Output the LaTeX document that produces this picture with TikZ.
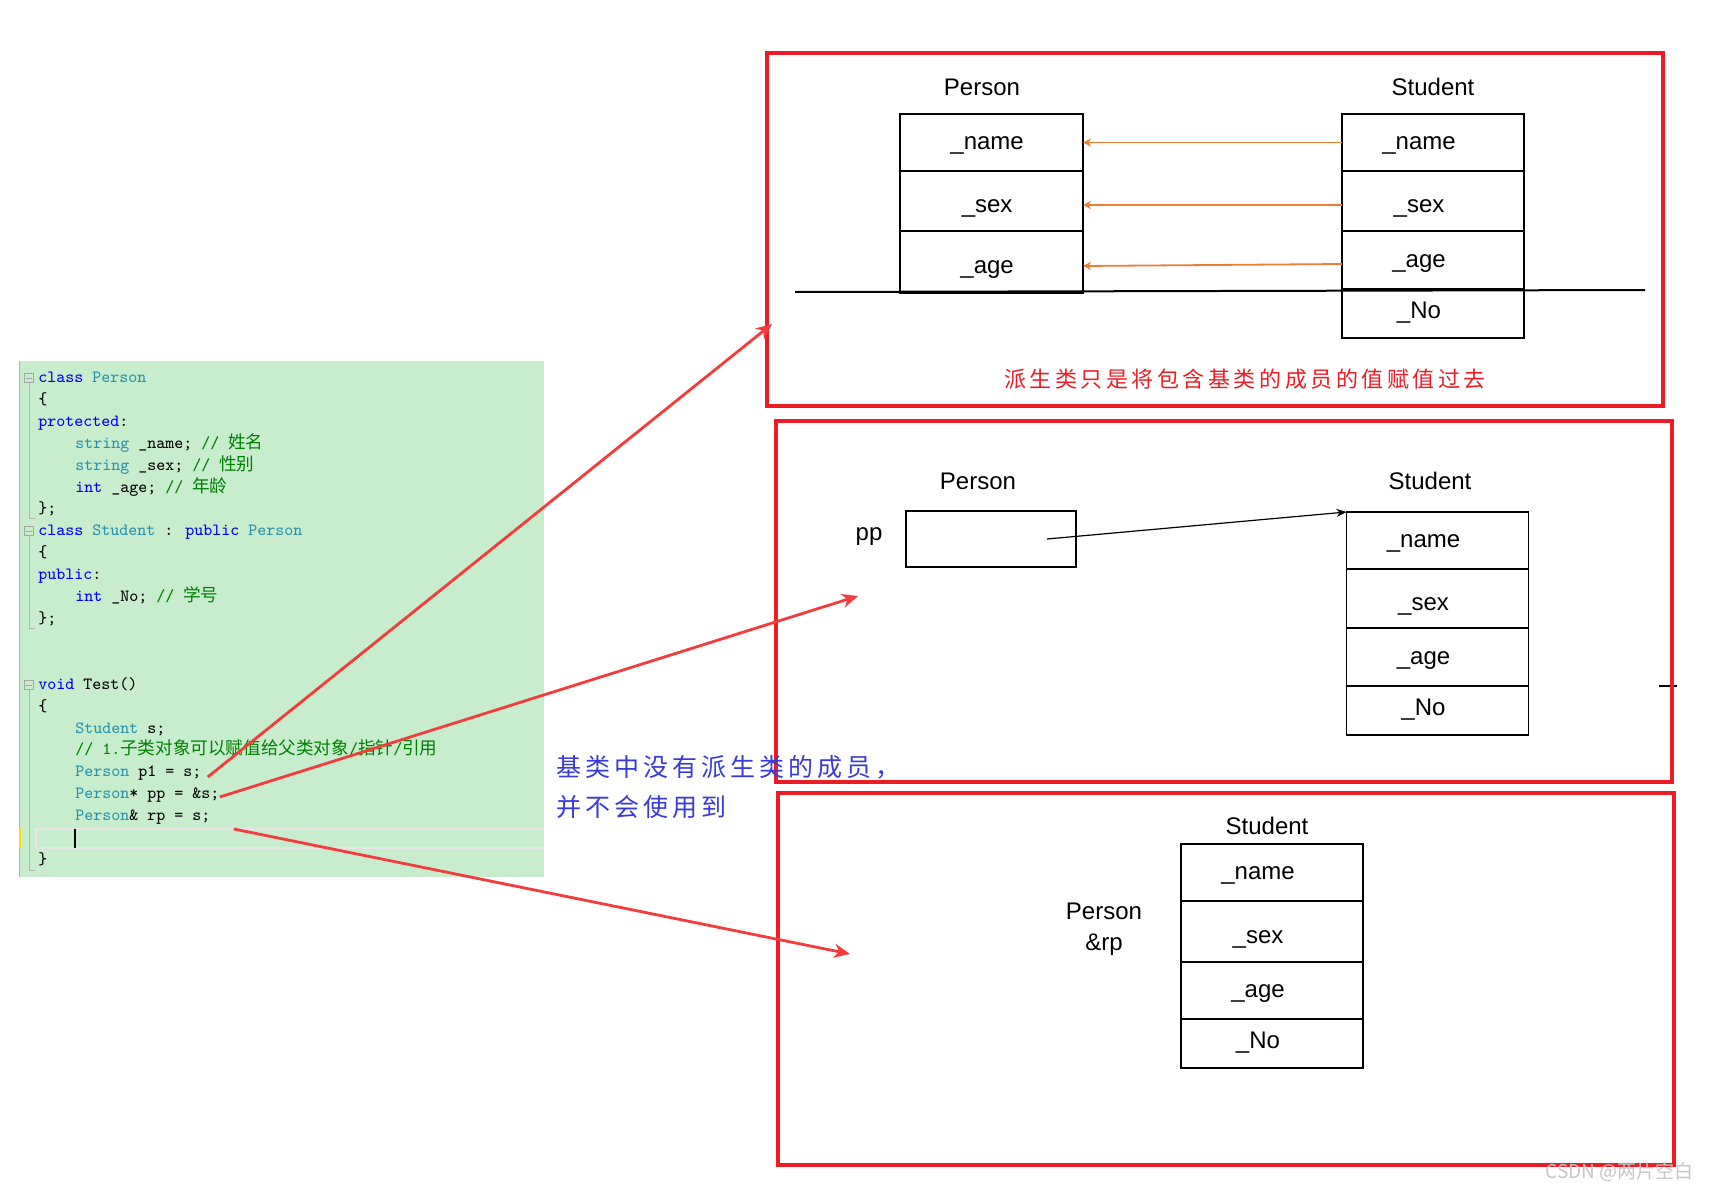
\documentclass[tikz,border=0pt]{standalone}
\usepackage{fontspec}
\setmainfont{Liberation Sans}
\newfontfamily\cjk{Noto Sans CJK SC}
\newfontfamily\cjkwide{Noto Sans CJK SC}[LetterSpace=16]
\usetikzlibrary{arrows.meta,positioning}
\definecolor{cdBack}  {HTML}{C7EDCC}
\definecolor{cdKey}   {HTML}{0000FF}
\definecolor{cdType}  {HTML}{2B91AF}
\definecolor{cdCmt}   {HTML}{008000}
\definecolor{frRed}   {HTML}{ED1C24}
\definecolor{arRed}   {HTML}{F53B3B}
\definecolor{arOrange}{HTML}{ED7D31}
\definecolor{txBlue}  {HTML}{3A3AD8}
\newcommand{\kw}[1]{\textcolor{cdKey}{#1}}
\newcommand{\ty}[1]{\textcolor{cdType}{#1}}
\newcommand{\cm}[1]{\textcolor{cdCmt}{#1}}
\newcommand{\zh}[1]{{\cjk\fontsize{8.8}{10}\selectfont #1}}

\begin{document}
\begin{tikzpicture}[x=0.5pt,y=-0.5pt,
    cell/.style={draw,line width=0.75pt,minimum width=91pt,minimum height=28.5pt,
                 inner sep=0pt,outer sep=0pt,text height=7pt,text depth=0pt,
                 font=\fontsize{12}{14}\selectfont},
    pcell/.style={cell,minimum width=91.5pt,execute at begin node=\hspace*{-4.4pt}},
    scell/.style={cell,execute at begin node=\hspace*{-14pt}},
    low/.style={text height=12pt},
    high/.style={text height=4.5pt},
    lbl/.style={inner sep=0pt,font=\fontsize{12}{14}\selectfont},
    redframe/.style={draw=frRed,line width=1.6pt},
    code/.style={anchor=west,inner sep=0pt,text height=6.5pt,text depth=2pt,
                 font=\ttfamily\fontsize{8.57}{10}\selectfont},
    fold/.style={draw=gray!70,line width=0.5pt,minimum size=4.5pt,inner sep=0pt,
                 path picture={\draw[gray!70,line width=0.5pt]
                   ([xshift=-1.4pt]path picture bounding box.center) --
                   ([xshift=1.4pt]path picture bounding box.center);}},
    guide/.style={draw=gray!60,line width=0.5pt},
    cpyarrow/.style={-{Stealth[length=4pt,width=4pt]},arOrange,line width=0.9pt},
    jump/.style={-{Stealth[length=8pt,width=7pt]},arRed,line width=1.4pt}]
  \useasboundingbox (0,0) rectangle (1710,1188);

  % code panel
  \fill[cdBack] (19,361) rectangle (544,877);
  \draw[green!55!black!45,line width=0.5pt] (19.5,361) -- (19.5,877);
  \fill[yellow!80!orange] (19,828) rectangle (21,848);
  \draw[gray!20,line width=1pt] (544,829) -- (36,829) -- (36,848) -- (544,848);
  \draw[line width=0.75pt] (75,829) -- (75,848);
  \node[fold] (f1) at (29,378) {};
  \node[fold] (f2) at (29,531) {};
  \node[fold] (f3) at (29,685) {};
  \draw[guide] (f1.south) |- (35,518);
  \draw[guide] (f2.south) |- (35,628);
  \draw[guide] (f3.south) |- (35,870);

  \node[code] (l1)  at (38,378) {\kw{class} \ty{Person}};
  \node[code] (l2)  at (38,400) {\{};
  \node[code] (l3)  at (38,422) {\kw{protected}:};
  \node[code] (l4)  at (75,444) {\ty{string} \_name; \cm{// \zh{姓名}}};
  \node[code] (l5)  at (75,466) {\ty{string} \_sex; \cm{// \zh{性别}}};
  \node[code] (l6)  at (75,488) {\kw{int} \_age; \cm{// \zh{年龄}}};
  \node[code] (l7)  at (38,509) {\};};
  \node[code] (l8)  at (38,531) {\kw{class} \ty{Student} : \kw{public} \ty{Person}};
  \node[code] (l9)  at (38,553) {\{};
  \node[code] (l10) at (38,575) {\kw{public}:};
  \node[code] (l11) at (75,597) {\kw{int} \_No; \cm{// \zh{学号}}};
  \node[code] (l12) at (38,619) {\};};
  \node[code] (l13) at (38,685) {\kw{void} Test()};
  \node[code] (l14) at (38,707) {\{};
  \node[code] (l15) at (75,729) {\ty{Student} s;};
  \node[code] (l16) at (75,750) {\cm{// 1.\zh{子类对象可以赋值给父类对象}/\zh{指针}/\zh{引用}}};
  \node[code] (p1)  at (75,772) {\ty{Person} p1 = s;};
  \node[code] (pp)  at (75,794) {\ty{Person}* pp = \&s;};
  \node[code] (rp)  at (75,816) {\ty{Person}\& rp = s;};
  \node[code] (l21) at (38,860) {\}};

  % top frame: copy by value
  \draw[redframe] (767,53) rectangle (1663,406);
  \node[lbl] (tp) at (982,87) {Person};
  \node[lbl] (ts) at (1433,87) {Student};
  \node[pcell] (pn) at (991.5,142.5) {\_name};
  \node[pcell,low,minimum height=30pt,below=0pt of pn] (ps) {\_sex};
  \node[pcell,minimum height=31pt,text height=11pt,below=0pt of ps] (pa) {\_age};
  \node[scell] (sn) at (1433,142.5) {\_name};
  \node[scell,low,minimum height=30pt,below=0pt of sn] (ss) {\_sex};
  \node[scell,minimum height=29pt,below=0pt of ss] (sa) {\_age};
  \node[scell,high,minimum height=24.5pt,below=0pt of sa] (sno) {\_No};
  \draw[line width=1pt] (795,292) -- (1645,290);
  \draw[cpyarrow] (sn.west) -- (pn.east);
  \draw[cpyarrow] ([yshift=-2pt]ss.west) -- ([yshift=-2pt]ps.east);
  \draw[cpyarrow] ([yshift=-2pt]sa.west) -- ([yshift=-2pt]pa.east);
  \node[text=frRed,inner sep=0pt,font=\cjkwide\fontsize{11}{13}\selectfont] (n1) at (1245,379)
    {派生类只是将包含基类的成员的值赋值过去};

  % middle frame: pointer
  \draw[line width=1pt] (1659,686) -- (1677,686);
  \draw[redframe] (776,421) rectangle (1672,782);
  \node[lbl] (mp) at (978,481) {Person};
  \node[lbl] (ms) at (1430,481) {Student};
  \node[lbl] (ppl) at (869,537) {pp};
  \node[draw,line width=0.75pt,minimum width=85pt,minimum height=28pt,inner sep=0pt] (ppbox) at (991,539) {};
  \node[scell] (mn) at (1437.5,540.5) {\_name};
  \node[scell,low,minimum height=29.5pt,below=0pt of mn] (mx) {\_sex};
  \node[scell,minimum height=29pt,below=0pt of mx] (ma) {\_age};
  \node[scell,high,minimum height=24.5pt,below=0pt of ma] (mno) {\_No};
  \draw[-{Stealth[length=5pt,width=4pt]},line width=0.6pt] ([xshift=28pt]ppbox.center) -- (mn.north west);

  % bottom frame: reference
  \draw[redframe] (778,793) rectangle (1674,1165);
  \node[lbl] (bs) at (1267,826) {Student};
  \node[lbl,align=center,font=\fontsize{12}{15.5}\selectfont] (brp) at (1104,929) {Person\\\&rp};
  \node[scell] (bn) at (1272,872.5) {\_name};
  \node[scell,low,minimum height=30.5pt,below=0pt of bn] (bx) {\_sex};
  \node[scell,minimum height=28.5pt,below=0pt of bx] (ba) {\_age};
  \node[scell,high,minimum height=24.5pt,below=0pt of ba] (bno) {\_No};

  \node[anchor=west,align=left,inner sep=0pt,text=txBlue,
        font=\cjkwide\fontsize{12.5}{20}\selectfont] (n2) at (556,787)
    {基类中没有派生类的成员，\\并不会使用到};

  % arrows from the code
  \coordinate (t1) at (772,324);
  \coordinate (t2) at (858,596);
  \coordinate (t3) at (850,954);
  \draw[jump] ([shift={(6,5)}]p1.east) -- (t1);
  \draw[jump] ([shift={(0,3)}]pp.east) -- (t2);
  \draw[jump] ([shift={(23,13)}]rp.east) -- (t3);

  \node[anchor=west,inner sep=0pt,text=gray!45,font=\cjk\fontsize{9.5}{11}\selectfont] (wm) at (1545,1172)
    {CSDN @两片空白};
\end{tikzpicture}
\end{document}
